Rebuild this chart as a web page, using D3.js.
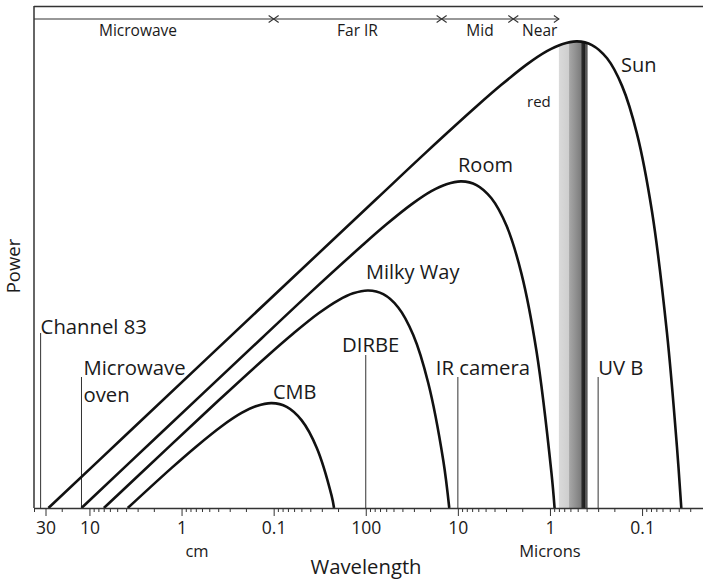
<!DOCTYPE html>
<html>
<head>
<meta charset="utf-8">
<script src="https://cdn.jsdelivr.net/npm/d3@7"></script>
<style>
  html, body { margin: 0; padding: 0; background: #fff; }
  svg { display: block; font-family: "Open Sans", "Noto Sans", sans-serif; }
</style>
</head>
<body>
<svg id="chart" width="703" height="580"></svg>
<script>
// Blackbody spectra: wavelength in microns, power as log10 of relative spectral power.
const sunWavelength = [2.79e5, 3.92e4, 920, 75.7, 21.7, 6.21, 3.32, 1.78, 1.08, 0.741, 0.509, 0.350, 0.240, 0.165, 0.1137, 0.0781, 0.0537, 0.0418, 0.0375];
const sunPower      = [0, 3.41, 9.93, 14.26, 16.42, 18.52, 19.52, 20.44, 21.05, 21.37, 21.50, 21.33, 20.72, 19.45, 17.25, 13.67, 8.08, 2.81, 0];

const roomWavelength = [1.22e5, 1.65e4, 1358, 389, 111, 59.6, 31.9, 19.4, 13.3, 9.14, 6.28, 4.32, 2.96, 2.04, 1.40, 0.964, 0.891];
const roomPower      = [0, 3.48, 7.81, 9.97, 12.07, 13.07, 13.99, 14.60, 14.92, 15.05, 14.88, 14.27, 13.00, 10.80, 7.22, 1.63, 0];

const milkyWayWavelength = [6.97e4, 1.40e4, 4000, 1145, 612, 328, 199, 137, 94.0, 64.6, 44.4, 30.5, 21.0, 14.4, 12.4];
const milkyWayPower      = [0, 2.78, 4.94, 7.04, 8.04, 8.96, 9.57, 9.89, 10.02, 9.85, 9.24, 7.97, 5.77, 2.19, 0];

const cmbWavelength = [3.84e4, 1.28e4, 6850, 3670, 2230, 1530, 1051, 722, 496, 341, 235, 221];
const cmbPower      = [0, 1.85, 2.85, 3.77, 4.38, 4.70, 4.83, 4.66, 4.04, 2.78, 0.57, 0];

const curveNames = ["Sun", "Room", "Milky Way", "CMB"];

// Instruments / sources marked along the wavelength axis (microns)
const markerNames = [["Channel 83"], ["Microwave", "oven"], ["DIRBE"], ["IR camera"], ["UV B"]];
const markerWavelengths = [3.39e5, 1.22e5, 100, 10, 0.3];

// Spectral regions across the top (band edges in microns)
const bandNames = ["Microwave", "Far IR", "Mid", "Near"];
const bandEdges = [4e5, 1000, 15, 2.5, 0.8];
const bandLabelWavelengths = [2.97e4, 123, 5.75, 1.29];

// Visible light range (microns), red to violet
const visibleRange = [0.8, 0.39];

// Axis ticks (microns) and their printed labels
const majorTicks = [3e5, 1e5, 1e4, 1e3, 100, 10, 1, 0.1];
const tickLabels = ["30", "10", "1", "0.1", "100", "10", "1", "0.1"];
const unitLabels = ["cm", "Microns"];

// ---------------------------------------------------------------------------
const svg = d3.select("#chart");
const ink = "#1a1a1a";
const frameInk = "#333";

const x = d3.scaleLog().domain([4e5, 0.0218]).range([34, 703]);
const y = d3.scaleLinear().domain([0, 23.13]).range([508, 6]);

const toPoints = (ws, ps) => ws.map((w, i) => ({ w, p: ps[i] }));
const series = [
  toPoints(sunWavelength, sunPower),
  toPoints(roomWavelength, roomPower),
  toPoints(milkyWayWavelength, milkyWayPower),
  toPoints(cmbWavelength, cmbPower)
];

const curveType = d3.curveCatmullRom.alpha(0.5);
const line = d3.line().x(d => x(d.w)).y(d => y(d.p)).curve(curveType);
const area = d3.area().x(d => x(d.w)).y0(y(0)).y1(d => y(d.p)).curve(curveType);

// Visible band, clipped to the region under the solar spectrum
const defs = svg.append("defs");
defs.append("clipPath").attr("id", "under-sun")
  .append("path").attr("d", area(series[0]));

const grad = defs.append("linearGradient").attr("id", "visible")
  .attr("x1", "0%").attr("x2", "100%").attr("y1", "0%").attr("y2", "0%");
[
  [0, "#dadada"], [0.36, "#cecece"], [0.37, "#a6a6a6"], [0.55, "#949494"],
  [0.77, "#7c7c7c"], [0.8, "#2c2c2c"], [0.9, "#1e1e1e"], [0.92, "#555"], [1, "#5c5c5c"]
].forEach(([o, c]) => grad.append("stop").attr("offset", o).attr("stop-color", c));

svg.append("rect")
  .attr("x", x(visibleRange[0]))
  .attr("width", x(visibleRange[1]) - x(visibleRange[0]))
  .attr("y", y(23))
  .attr("height", y(0) - y(23))
  .attr("fill", "url(#visible)")
  .attr("clip-path", "url(#under-sun)");

svg.append("text")
  .attr("x", 527).attr("y", 107)
  .attr("font-size", 15).attr("fill", ink)
  .text("red");

// Frame: left edge and top rule
svg.append("line").attr("x1", 34).attr("x2", 34).attr("y1", 6).attr("y2", y(0))
  .attr("stroke", frameInk).attr("stroke-width", 1.5);
svg.append("line").attr("x1", 34).attr("x2", 703).attr("y1", 6.5).attr("y2", 6.5)
  .attr("stroke", frameInk).attr("stroke-width", 1.5);

// Spectral region arrows
const arrowY = 19;
svg.append("line")
  .attr("x1", x(bandEdges[0])).attr("x2", x(bandEdges[bandEdges.length - 1]))
  .attr("y1", arrowY).attr("y2", arrowY)
  .attr("stroke", frameInk).attr("stroke-width", 1.2);
const chevron = (tipX, dir) => {
  const back = tipX - dir * 5;
  return `M${back},${arrowY - 3.5}L${tipX},${arrowY}L${back},${arrowY + 3.5}`;
};
bandEdges.forEach((e, i) => {
  const ex = x(e);
  if (i > 0) svg.append("path").attr("d", chevron(ex, 1))
    .attr("fill", "none").attr("stroke", frameInk).attr("stroke-width", 1.1);
  if (i > 0 && i < bandEdges.length - 1) svg.append("path").attr("d", chevron(ex, -1))
    .attr("fill", "none").attr("stroke", frameInk).attr("stroke-width", 1.1);
});
bandNames.forEach((n, i) => {
  svg.append("text")
    .attr("x", x(bandLabelWavelengths[i])).attr("y", 36)
    .attr("text-anchor", "middle").attr("font-size", 15.5).attr("fill", ink)
    .text(n);
});

// Marker lines with their labels
const markerLayout = [
  { top: 333, dx: 0, anchor: "start", base: 334 },
  { top: 377, dx: 2, anchor: "start", base: 375 },
  { top: 355, dx: 5, anchor: "middle", base: 352 },
  { top: 377, dx: -22, anchor: "start", base: 375 },
  { top: 377, dx: 0, anchor: "start", base: 375 }
];
markerWavelengths.forEach((w, i) => {
  const mx = x(w), L = markerLayout[i];
  svg.append("line").attr("x1", mx).attr("x2", mx).attr("y1", L.top).attr("y2", y(0))
    .attr("stroke", "#333").attr("stroke-width", 1);
  const t = svg.append("text")
    .attr("x", mx + L.dx).attr("y", L.base)
    .attr("text-anchor", L.anchor).attr("font-size", 20.3).attr("fill", ink);
  markerNames[i].forEach((s, j) => {
    t.append("tspan").attr("x", mx + L.dx).attr("dy", j === 0 ? 0 : 27).text(s);
  });
});

// Spectra
svg.append("g").selectAll("path").data(series).join("path")
  .attr("d", line)
  .attr("fill", "none").attr("stroke", "#111").attr("stroke-width", 2.6)
  .attr("stroke-linejoin", "round");

const curveLabelPos = [[621, 72], [458, 172], [366, 279], [273, 399]];
curveNames.forEach((n, i) => {
  svg.append("text").attr("x", curveLabelPos[i][0]).attr("y", curveLabelPos[i][1])
    .attr("font-size", 20).attr("fill", ink).text(n);
});

// Wavelength axis
const minorTicks = [4e5, 2e5];
for (let e = 4; e >= -2; e--) {
  for (let k = 2; k <= 9; k++) {
    const v = k * Math.pow(10, e);
    if (v < 1e5 && v > 0.0218 && !majorTicks.includes(v)) minorTicks.push(v);
  }
}

const axisG = svg.append("g").attr("transform", `translate(0,${y(0)})`);
axisG.call(d3.axisBottom(x).tickValues(majorTicks).tickSize(8).tickSizeOuter(0)
  .tickFormat((d, i) => tickLabels[i]));
axisG.select(".domain").attr("stroke", frameInk).attr("stroke-width", 1.5);
axisG.selectAll(".tick line").attr("stroke", frameInk).attr("stroke-width", 1);
axisG.selectAll(".tick text")
  .attr("y", 26).attr("dy", 0)
  .attr("font-family", "'Open Sans', sans-serif").attr("font-size", 17.5).attr("fill", ink);

const minorG = svg.append("g").attr("transform", `translate(0,${y(0)})`);
minorG.call(d3.axisBottom(x).tickValues(minorTicks).tickSize(4).tickFormat(""));
minorG.select(".domain").remove();
minorG.selectAll(".tick line").attr("stroke", frameInk).attr("stroke-width", 1);

// Unit and axis titles
svg.append("text").attr("x", 197).attr("y", 557).attr("text-anchor", "middle")
  .attr("font-size", 16.5).attr("fill", ink).text(unitLabels[0]);
svg.append("text").attr("x", x(1)).attr("y", 557).attr("text-anchor", "middle")
  .attr("font-size", 16.5).attr("fill", ink).text(unitLabels[1]);
svg.append("text").attr("x", 366).attr("y", 574).attr("text-anchor", "middle")
  .attr("font-size", 20.3).attr("fill", ink).text("Wavelength");
svg.append("text").attr("transform", "translate(20,266) rotate(-90)")
  .attr("text-anchor", "middle").attr("font-size", 18.5).attr("fill", ink).text("Power");
</script>
</body>
</html>
